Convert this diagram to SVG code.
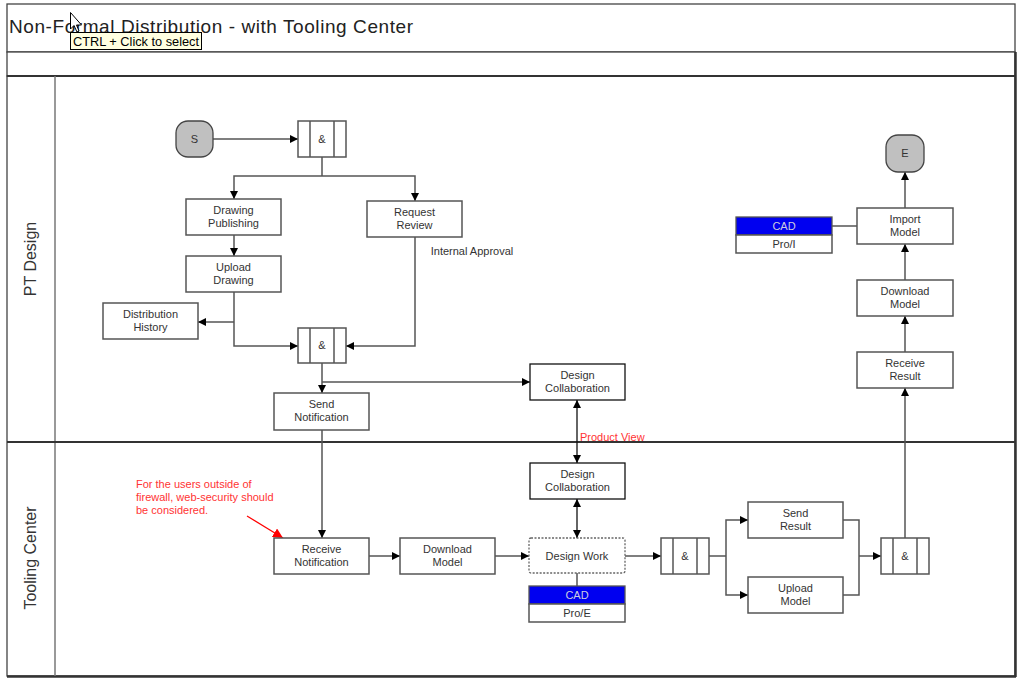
<svg xmlns="http://www.w3.org/2000/svg" width="1024" height="686" viewBox="0 0 1024 686">
<style>
.frame{fill:#fff;stroke:#444;stroke-width:1.3}
.box{fill:#fff;stroke:#555;stroke-width:1.5}
.boxk{fill:#fff;stroke:#111;stroke-width:1.3}
.gl{stroke:#555;stroke-width:1.5}
.t{font-family:"Liberation Sans",Arial,sans-serif;font-size:11px;fill:#333;text-anchor:middle}
.tw{font-family:"Liberation Sans",Arial,sans-serif;font-size:11px;fill:#ccd;text-anchor:middle}
.red{font-family:"Liberation Sans",Arial,sans-serif;font-size:11px;fill:#f33}
.lane{font-family:"Liberation Sans",Arial,sans-serif;font-size:16px;fill:#333;text-anchor:middle}
.c{fill:none;stroke:#555;stroke-width:1.5}
.ck{fill:none;stroke:#111;stroke-width:1.3}
</style>
<defs>
<marker id="a" viewBox="0 0 10 10" refX="10" refY="5" markerWidth="8" markerHeight="8" markerUnits="userSpaceOnUse" orient="auto-start-reverse"><path d="M0,0 L10,5 L0,10 z" fill="#000"/></marker>
<marker id="ar" viewBox="0 0 10 10" refX="10" refY="5" markerWidth="10" markerHeight="10" markerUnits="userSpaceOnUse" orient="auto"><path d="M0,0 L10,5 L0,10 z" fill="#f00"/></marker>
</defs>
<rect width="1024" height="686" fill="#fff"/>
<g id="frame">
<rect class="frame" x="7" y="4" width="1008" height="48"/>
<rect class="frame" x="7" y="52" width="1008" height="24"/>
<rect class="frame" x="7" y="76" width="1008" height="600"/>
<line x1="1015.5" y1="52" x2="1015.5" y2="677" stroke="#333" stroke-width="2.5"/>
<line x1="7" y1="676.5" x2="1016" y2="676.5" stroke="#333" stroke-width="2.5"/>
<line x1="7" y1="76" x2="1016" y2="76" stroke="#333" stroke-width="2"/>
<line x1="55" y1="76" x2="55" y2="676" stroke="#777" stroke-width="1.5"/>
<line x1="7" y1="442" x2="1016" y2="442" stroke="#333" stroke-width="1.8"/>
<text x="9" y="33" font-family="'Liberation Sans',Arial,sans-serif" font-size="19" fill="#222" textLength="404" lengthAdjust="spacing">Non-Formal Distribution - with Tooling Center</text>
<text class="lane" transform="translate(36,259) rotate(-90)">PT Design</text>
<text class="lane" transform="translate(36,558) rotate(-90)">Tooling Center</text>
</g>
<g id="connectors">
<line class="c" x1="213" y1="139" x2="298" y2="139" marker-end="url(#a)"/>
<polyline class="c" points="322,157 322,176"/>
<polyline class="c" points="234,199 234,176 415,176 415,201" marker-start="url(#a)" marker-end="url(#a)"/>
<line class="c" x1="234" y1="235" x2="234" y2="256" marker-end="url(#a)"/>
<polyline class="c" points="234,292 234,346 298,346" marker-end="url(#a)"/>
<line class="c" x1="234" y1="322" x2="198" y2="322" marker-end="url(#a)"/>
<polyline class="c" points="415,237 415,346 346,346" marker-end="url(#a)"/>
<line class="c" x1="322" y1="363" x2="322" y2="393" marker-end="url(#a)"/>
<line class="c" x1="322" y1="382" x2="530" y2="382" marker-end="url(#a)"/>
<line class="c" x1="322" y1="430" x2="322" y2="538" marker-end="url(#a)"/>
<line class="c" x1="369" y1="556" x2="400" y2="556" marker-end="url(#a)"/>
<line class="c" x1="495" y1="556" x2="529" y2="556" marker-end="url(#a)"/>
<line class="ck" x1="577" y1="400" x2="577" y2="463" marker-start="url(#a)" marker-end="url(#a)"/>
<line class="ck" x1="577" y1="499" x2="577" y2="538" marker-start="url(#a)" marker-end="url(#a)"/>
<line class="c" x1="577" y1="573" x2="577" y2="586"/>
<line class="c" x1="625" y1="556" x2="661" y2="556" marker-end="url(#a)"/>
<line class="c" x1="709" y1="556" x2="726" y2="556"/>
<polyline class="c" points="748,520 726,520 726,595 748,595" marker-start="url(#a)" marker-end="url(#a)"/>
<polyline class="c" points="843,520 859,520 859,595 843,595"/>
<line class="c" x1="859" y1="556" x2="881" y2="556" marker-end="url(#a)"/>
<line class="c" x1="905" y1="538" x2="905" y2="388" marker-end="url(#a)"/>
<line class="c" x1="905" y1="352" x2="905" y2="316" marker-end="url(#a)"/>
<line class="c" x1="905" y1="280" x2="905" y2="244" marker-end="url(#a)"/>
<line class="c" x1="905" y1="208" x2="905" y2="172" marker-end="url(#a)"/>
<line class="c" x1="832" y1="226" x2="857" y2="226"/>
<line x1="247" y1="516" x2="283" y2="538" stroke="#f00" stroke-width="1.2" marker-end="url(#ar)"/>
</g>
<g id="start"><rect x="176" y="121" width="37" height="36" rx="12" fill="#c0c0c0" stroke="#444" stroke-width="1.3"/><text class="t" x="194.5" y="143">S</text></g>
<g id="end"><rect x="886" y="135" width="38" height="37" rx="12" fill="#c0c0c0" stroke="#444" stroke-width="1.3"/><text class="t" x="905" y="157">E</text></g>
<g id="gate1"><rect class="box" x="298" y="121" width="48" height="36"/><line class="gl" x1="310" y1="121" x2="310" y2="157"/><line class="gl" x1="334" y1="121" x2="334" y2="157"/><text class="t" x="322" y="143">&amp;</text></g>
<g id="gate2"><rect class="box" x="298" y="328" width="48" height="35"/><line class="gl" x1="310" y1="328" x2="310" y2="363"/><line class="gl" x1="334" y1="328" x2="334" y2="363"/><text class="t" x="322" y="349">&amp;</text></g>
<g id="gate3"><rect class="box" x="661" y="538" width="48" height="36"/><line class="gl" x1="673" y1="538" x2="673" y2="574"/><line class="gl" x1="697" y1="538" x2="697" y2="574"/><text class="t" x="685" y="560">&amp;</text></g>
<g id="gate4"><rect class="box" x="881" y="538" width="48" height="36"/><line class="gl" x1="893" y1="538" x2="893" y2="574"/><line class="gl" x1="917" y1="538" x2="917" y2="574"/><text class="t" x="905" y="560">&amp;</text></g>
<g id="drawing-publishing"><rect class="box" x="186" y="199" width="95" height="36"/><text class="t" x="233.5" y="214">Drawing</text><text class="t" x="233.5" y="227">Publishing</text></g>
<g id="request-review"><rect class="box" x="367" y="201" width="95" height="36"/><text class="t" x="414.5" y="216">Request</text><text class="t" x="414.5" y="229">Review</text></g>
<g id="internal-approval"><text class="t" x="472" y="255">Internal Approval</text></g>
<g id="upload-drawing"><rect class="box" x="186" y="256" width="95" height="36"/><text class="t" x="233.5" y="271">Upload</text><text class="t" x="233.5" y="284">Drawing</text></g>
<g id="distribution-history"><rect class="box" x="103" y="303" width="95" height="36"/><text class="t" x="150.5" y="318">Distribution</text><text class="t" x="150.5" y="331">History</text></g>
<g id="send-notification"><rect class="box" x="274" y="393" width="95" height="37"/><text class="t" x="321.5" y="408">Send</text><text class="t" x="321.5" y="421">Notification</text></g>
<g id="design-collab-top"><rect class="boxk" x="530" y="364" width="95" height="36"/><text class="t" x="577.5" y="379">Design</text><text class="t" x="577.5" y="392">Collaboration</text></g>
<g id="product-view"><text class="red" x="580" y="441">Product View</text></g>
<g id="design-collab-bottom"><rect class="boxk" x="530" y="463" width="95" height="36"/><text class="t" x="577.5" y="478">Design</text><text class="t" x="577.5" y="491">Collaboration</text></g>
<g id="design-work"><rect x="529" y="538" width="96" height="35" rx="2" fill="#fff" stroke="#666" stroke-width="1.3" stroke-dasharray="2,1.5"/><text class="t" x="577" y="560">Design Work</text></g>
<g id="cad-pro-e"><rect x="529" y="586" width="96" height="18" fill="#0000f0" stroke="#555" stroke-width="1.3"/><rect class="box" x="529" y="604" width="96" height="18"/><text class="tw" x="577" y="599">CAD</text><text class="t" x="577" y="617">Pro/E</text></g>
<g id="receive-notification"><rect class="box" x="274" y="538" width="95" height="36"/><text class="t" x="321.5" y="553">Receive</text><text class="t" x="321.5" y="566">Notification</text></g>
<g id="download-model"><rect class="box" x="400" y="538" width="95" height="36"/><text class="t" x="447.5" y="553">Download</text><text class="t" x="447.5" y="566">Model</text></g>
<g id="send-result"><rect class="box" x="748" y="502" width="95" height="36"/><text class="t" x="795.5" y="517">Send</text><text class="t" x="795.5" y="530">Result</text></g>
<g id="upload-model"><rect class="box" x="748" y="577" width="95" height="36"/><text class="t" x="795.5" y="592">Upload</text><text class="t" x="795.5" y="605">Model</text></g>
<g id="receive-result"><rect class="box" x="857" y="352" width="96" height="36"/><text class="t" x="905" y="367">Receive</text><text class="t" x="905" y="380">Result</text></g>
<g id="download-model-2"><rect class="box" x="857" y="280" width="96" height="36"/><text class="t" x="905" y="295">Download</text><text class="t" x="905" y="308">Model</text></g>
<g id="import-model"><rect class="box" x="857" y="208" width="96" height="36"/><text class="t" x="905" y="223">Import</text><text class="t" x="905" y="236">Model</text></g>
<g id="cad-pro-i"><rect x="736" y="217" width="96" height="18" fill="#0000f0" stroke="#555" stroke-width="1.3"/><rect class="box" x="736" y="235" width="96" height="18"/><text class="tw" x="784" y="230">CAD</text><text class="t" x="784" y="248">Pro/I</text></g>
<g id="note"><text class="red" x="136" y="488">For the users outside of</text><text class="red" x="136" y="501">firewall, web-security should</text><text class="red" x="136" y="514">be considered.</text></g>
<g id="tooltip">
<rect x="70.5" y="32.5" width="131" height="17" fill="#ffffe1" stroke="#000" stroke-width="1"/>
<text x="73" y="45.5" font-family="'Liberation Sans',Arial,sans-serif" font-size="13" fill="#000" textLength="126" lengthAdjust="spacingAndGlyphs">CTRL + Click to select</text>
<path d="M70.5,12.5 L70.5,29 L74,25.5 L77,32 L79,31 L76.5,25 L81.5,25 Z" fill="#fff" stroke="#000" stroke-width="1"/>
</g>
</svg>
